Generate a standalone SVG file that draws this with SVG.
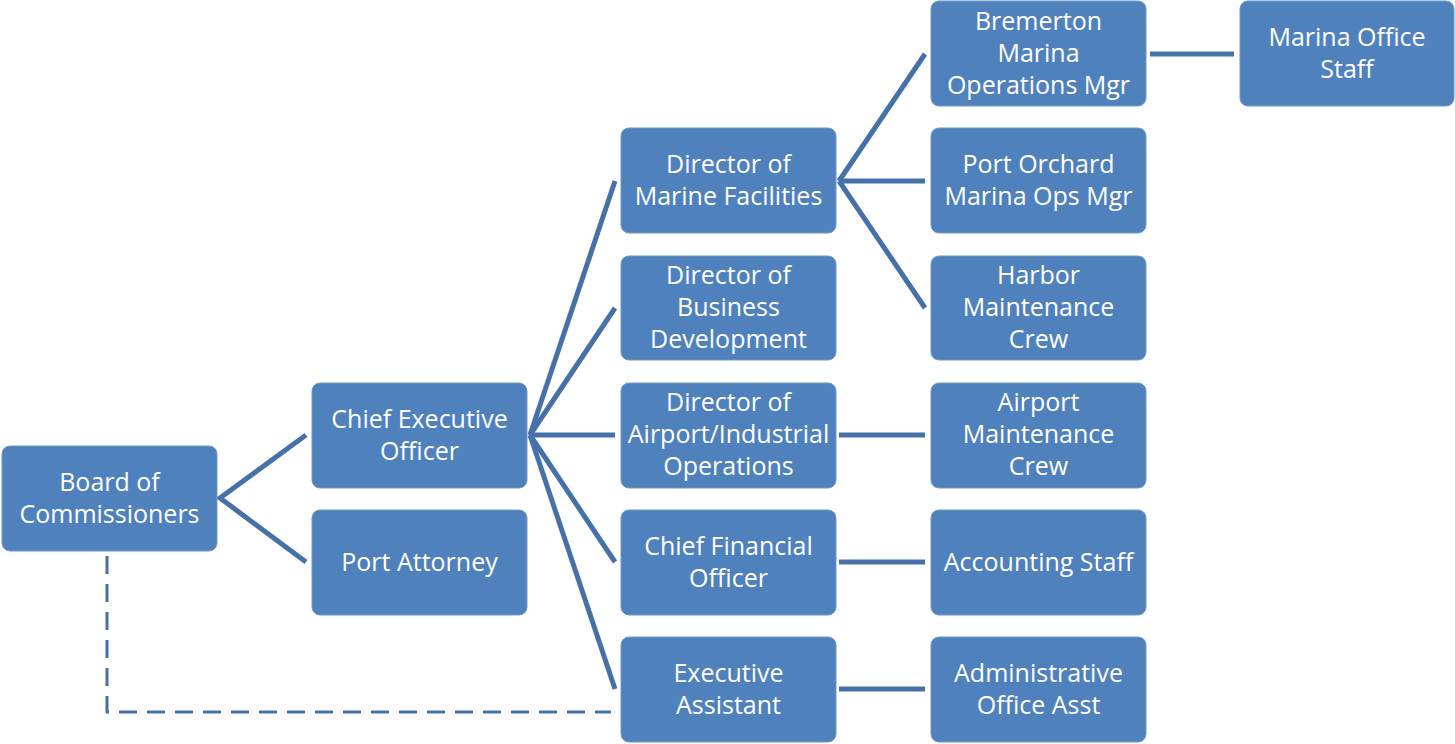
<svg xmlns="http://www.w3.org/2000/svg" width="1455" height="744" viewBox="0 0 1455 744">
<style>
.box{fill:#4f81bd;stroke:#6f97c9;stroke-width:1}
.t{font-family:"Open Sans","Liberation Sans",sans-serif;font-size:25px;fill:#ffffff;text-anchor:middle}
.ln{stroke:#4670a8;stroke-width:5;fill:none}
.dash{stroke:#4670a8;stroke-width:3;fill:none;stroke-dasharray:18 10}
</style>
<rect width="1455" height="744" fill="#ffffff"/>
<g id="connectors">
<polyline class="ln" points="306,435 220,498 306,562"/>
<line class="ln" x1="530" y1="435" x2="615" y2="181"/>
<line class="ln" x1="530" y1="435" x2="615" y2="308"/>
<line class="ln" x1="530" y1="435" x2="615" y2="435"/>
<line class="ln" x1="530" y1="435" x2="615" y2="562"/>
<line class="ln" x1="530" y1="435" x2="615" y2="689"/>
<line class="ln" x1="839" y1="181" x2="925" y2="54"/>
<line class="ln" x1="839" y1="181" x2="925" y2="181"/>
<line class="ln" x1="839" y1="181" x2="925" y2="308"/>
<line class="ln" x1="839" y1="435" x2="925" y2="435"/>
<line class="ln" x1="839" y1="562" x2="925" y2="562"/>
<line class="ln" x1="839" y1="689" x2="925" y2="689"/>
<line class="ln" x1="1150" y1="54" x2="1234" y2="54"/>
<polyline class="dash" points="107,556 107,712 611,712"/>
</g>
<g id="board"><rect class="box" x="2" y="446" width="215" height="105" rx="8"/><text class="t" x="109.5" y="491">Board of</text><text class="t" x="109.5" y="523">Commissioners</text></g>
<g id="ceo"><rect class="box" x="312" y="383" width="215" height="105" rx="8"/><text class="t" x="419.5" y="428">Chief Executive</text><text class="t" x="419.5" y="460">Officer</text></g>
<g id="attorney"><rect class="box" x="312" y="510" width="215" height="105" rx="8"/><text class="t" x="419.5" y="571">Port Attorney</text></g>
<g id="marine"><rect class="box" x="621" y="128" width="215" height="105" rx="8"/><text class="t" x="728.5" y="173">Director of</text><text class="t" x="728.5" y="205">Marine Facilities</text></g>
<g id="business"><rect class="box" x="621" y="256" width="215" height="104" rx="8"/><text class="t" x="728.5" y="284">Director of</text><text class="t" x="728.5" y="316">Business</text><text class="t" x="728.5" y="348">Development</text></g>
<g id="airport"><rect class="box" x="621" y="383" width="215" height="105" rx="8"/><text class="t" x="728.5" y="411">Director of</text><text class="t" x="728.5" y="443">Airport/Industrial</text><text class="t" x="728.5" y="475">Operations</text></g>
<g id="cfo"><rect class="box" x="621" y="510" width="215" height="105" rx="8"/><text class="t" x="728.5" y="555">Chief Financial</text><text class="t" x="728.5" y="587">Officer</text></g>
<g id="exec"><rect class="box" x="621" y="637" width="215" height="105" rx="8"/><text class="t" x="728.5" y="682">Executive</text><text class="t" x="728.5" y="714">Assistant</text></g>
<g id="bremerton"><rect class="box" x="931" y="1" width="215" height="105" rx="8"/><text class="t" x="1038.5" y="30">Bremerton</text><text class="t" x="1038.5" y="62">Marina</text><text class="t" x="1038.5" y="94">Operations Mgr</text></g>
<g id="portorchard"><rect class="box" x="931" y="128" width="215" height="105" rx="8"/><text class="t" x="1038.5" y="173">Port Orchard</text><text class="t" x="1038.5" y="205">Marina Ops Mgr</text></g>
<g id="harbor"><rect class="box" x="931" y="256" width="215" height="104" rx="8"/><text class="t" x="1038.5" y="284">Harbor</text><text class="t" x="1038.5" y="316">Maintenance</text><text class="t" x="1038.5" y="348">Crew</text></g>
<g id="airportmaint"><rect class="box" x="931" y="383" width="215" height="105" rx="8"/><text class="t" x="1038.5" y="411">Airport</text><text class="t" x="1038.5" y="443">Maintenance</text><text class="t" x="1038.5" y="475">Crew</text></g>
<g id="accounting"><rect class="box" x="931" y="510" width="215" height="105" rx="8"/><text class="t" x="1038.5" y="571">Accounting Staff</text></g>
<g id="admin"><rect class="box" x="931" y="637" width="215" height="105" rx="8"/><text class="t" x="1038.5" y="682">Administrative</text><text class="t" x="1038.5" y="714">Office Asst</text></g>
<g id="marinaoffice"><rect class="box" x="1240" y="1" width="214" height="105" rx="8"/><text class="t" x="1347" y="46">Marina Office</text><text class="t" x="1347" y="78">Staff</text></g>
</svg>
